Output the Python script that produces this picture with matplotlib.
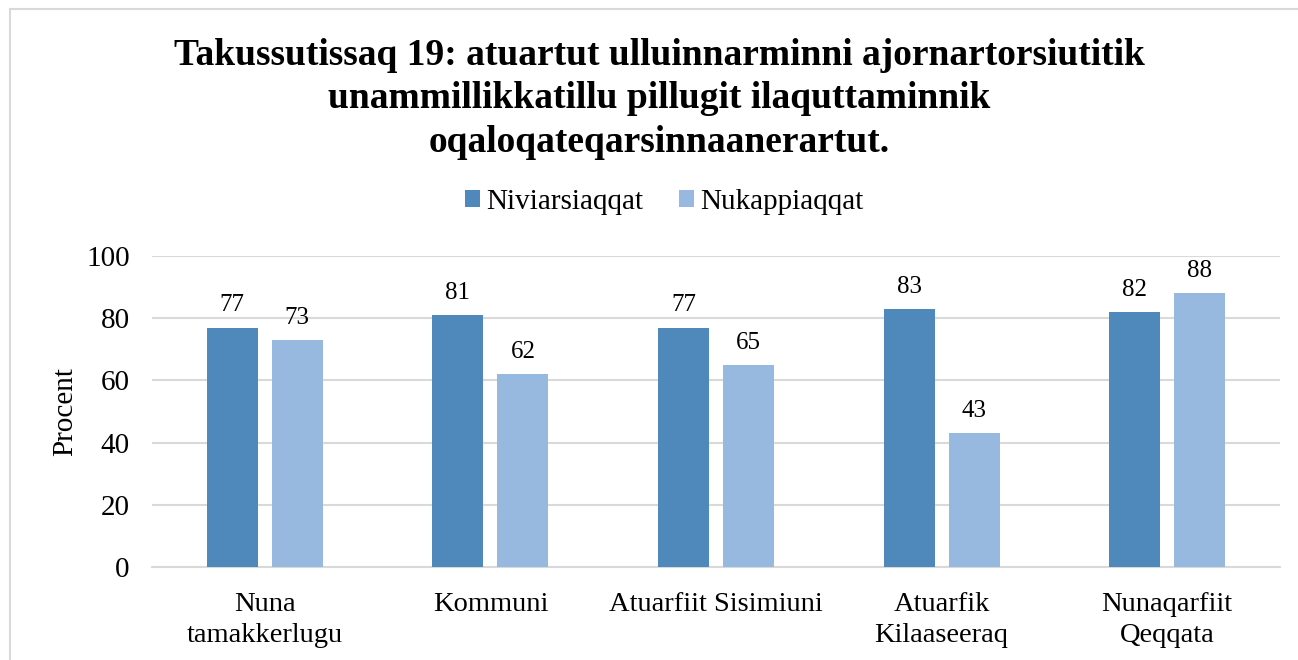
import numpy as np
import matplotlib.pyplot as plt
from matplotlib.lines import Line2D

plt.rcParams['font.family'] = ['Liberation Serif', 'DejaVu Serif']

kategorit = ['Nuna\ntamakkerlugu', 'Kommuni', 'Atuarfiit Sisimiuni',
             'Atuarfik\nKilaaseeraq', 'Nunaqarfiit\nQeqqata']
niviarsiaqqat = [77, 81, 77, 83, 82]
nukappiaqqat = [73, 62, 65, 43, 88]

col_niv = '#4F89BC'
col_nuk = '#97B9E0'

fig = plt.figure(figsize=(12.98, 6.6), dpi=100)
ax = fig.add_axes([152/1298, 1 - 567/660, (1280 - 152)/1298, (567 - 256)/660])

x = np.arange(len(kategorit))
w = 0.226
off = 0.144
b1 = ax.bar(x - off, niviarsiaqqat, w, color=col_niv, label='Niviarsiaqqat', zorder=3)
b2 = ax.bar(x + off, nukappiaqqat, w, color=col_nuk, label='Nukappiaqqat', zorder=3)
ax.bar_label(b1, padding=8, fontsize=18)
ax.bar_label(b2, padding=8, fontsize=18)

ax.set_xlim(-0.5, len(kategorit) - 0.5)
ax.set_ylim(0, 100)
ax.set_yticks(np.arange(0, 101, 20))
ax.set_xticks(x)
ax.set_xticklabels(kategorit, fontsize=20.5, linespacing=1.3)
ax.tick_params(axis='both', length=0)
ax.tick_params(axis='y', labelsize=21, pad=16)
ax.tick_params(axis='x', pad=18)
ax.grid(axis='y', color='#D9D9D9', linewidth=1.5, zorder=0)
for s in ['top', 'right', 'left']:
    ax.spines[s].set_visible(False)
ax.spines['bottom'].set_color('#D9D9D9')
ax.spines['bottom'].set_linewidth(1.5)
ax.set_ylabel('Procent', fontsize=21, labelpad=6)

fig.text(659/1298, 1 - 99/660,
         'Takussutissaq 19: atuartut ulluinnarminni ajornartorsiutitik\n'
         'unammillikkatillu pillugit ilaquttaminnik\n'
         'oqaloqateqarsinnaanerartut.',
         ha='center', va='center', fontsize=27, fontweight='bold', linespacing=1.3)

fig.legend(handles=[b1, b2], labels=['Niviarsiaqqat', 'Nukappiaqqat'],
           loc='center', bbox_to_anchor=(664/1298, 1 - 202/660), ncol=2,
           frameon=False, fontsize=21, handlelength=0.52, handleheight=0.52,
           handletextpad=0.2, columnspacing=1.24)

# chart border (only left and top visible in the crop)
fig.add_artist(Line2D([9.5/1298, 9.5/1298], [0, 1 - 8.5/660], transform=fig.transFigure,
                      color='#D9D9D9', linewidth=1.5))
fig.add_artist(Line2D([9.5/1298, 1], [1 - 8.5/660, 1 - 8.5/660], transform=fig.transFigure,
                      color='#D9D9D9', linewidth=1.5))

fig.savefig('out.png', dpi=100)
